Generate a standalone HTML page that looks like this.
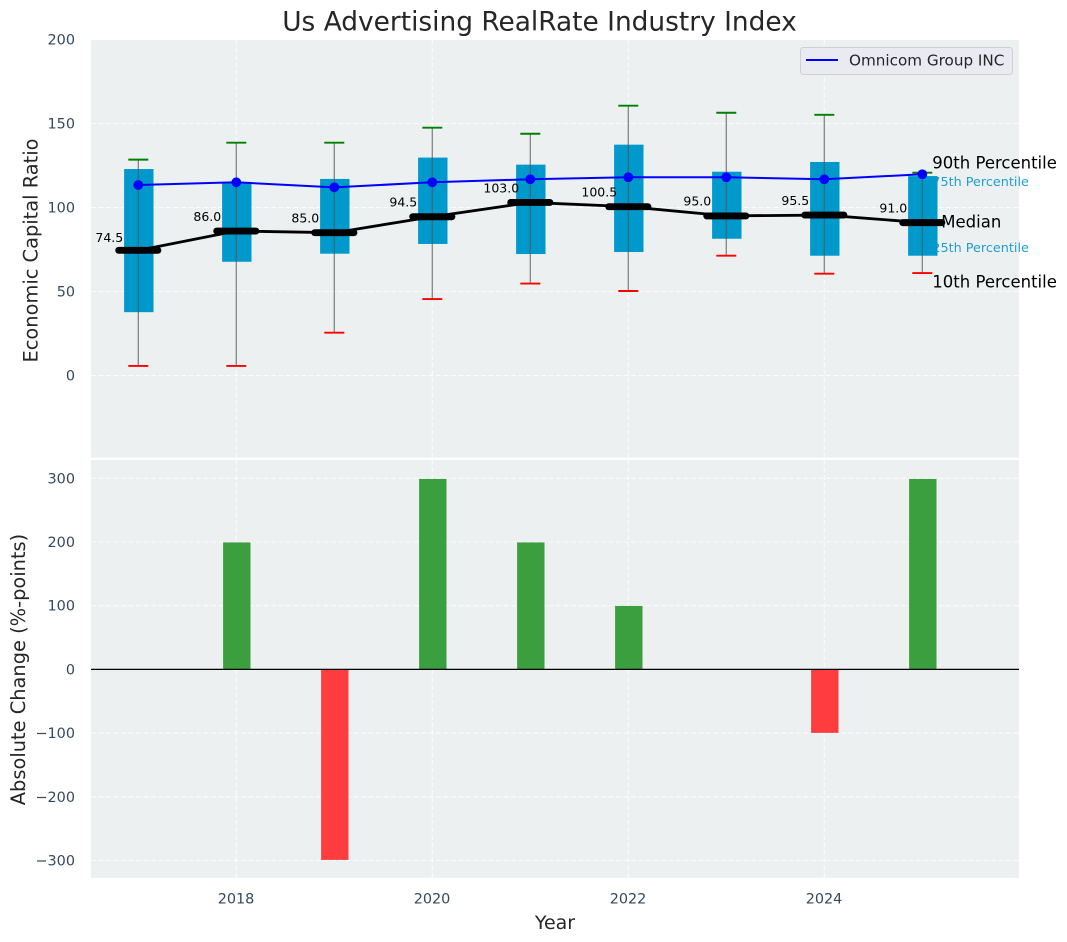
<!DOCTYPE html>
<html lang="en">
<head>
<meta charset="utf-8">
<title>Us Advertising RealRate Industry Index</title>
<style>
html,body{margin:0;padding:0;background:#fff;width:1067px;height:942px;overflow:hidden}
svg{display:block;font-family:"DejaVu Sans","Liberation Sans",sans-serif}
</style>
</head>
<body>
<svg id="chart" xmlns="http://www.w3.org/2000/svg" width="1067" height="942" viewBox="0 0 1067 942">
  <rect x="91" y="40" width="928" height="417.7" fill="#ecf0f1"/>
  <rect x="91" y="460" width="928" height="417.8" fill="#ecf0f1"/>
  <g id="grid"></g>
  <g id="notes"></g>
  <g id="marks"></g>
  <g id="bars"></g>
  <g id="ticks" font-size="14.4" fill="#34495e"></g>
  <text x="539.5" y="22" font-size="26.4" fill="#262626" text-anchor="middle" dominant-baseline="central">Us Advertising RealRate Industry Index</text>
  <text transform="translate(31 250.5) rotate(-90)" font-size="19.4" fill="#262626" text-anchor="middle" dominant-baseline="central">Economic Capital Ratio</text>
  <text transform="translate(18.5 669.5) rotate(-90)" font-size="19.4" fill="#262626" text-anchor="middle" dominant-baseline="central">Absolute Change (%-points)</text>
  <text x="555" y="923" font-size="19" fill="#262626" text-anchor="middle" dominant-baseline="central">Year</text>
  <g>
    <rect x="800.5" y="47.5" width="212" height="27" rx="3" fill="#eaeaf2" stroke="#cfcfd4" stroke-width="1"/>
    <line x1="806" x2="838" y1="60" y2="60" stroke="#0000ff" stroke-width="2"/>
    <text x="849" y="60.5" font-size="15.2" fill="#262626" dominant-baseline="central">Omnicom Group INC</text>
  </g>
</svg>
<script>
const years = [2017, 2018, 2019, 2020, 2021, 2022, 2023, 2024, 2025];
const p10 = [5.7, 5.7, 25.5, 45.5, 54.7, 50.3, 71.3, 60.6, 61];
const p25 = [37.7, 67.7, 72.5, 78.3, 72.3, 73.5, 81.4, 71.3, 71.3];
const medians = [74.5, 86, 85, 94.5, 103, 100.5, 95, 95.5, 91];
const p75 = [122.9, 114.7, 117, 129.7, 125.5, 137.4, 121.3, 127.1, 118.7];
const p90 = [128.5, 138.6, 138.6, 147.5, 143.9, 160.6, 156.4, 155.2, 120.7];
const company = [113.4, 115, 112, 115, 116.8, 118, 118, 116.8, 119.8];
const changes = [0, 200, -300, 300, 200, 100, 0, -100, 300];
const xTicks = [2018, 2020, 2022, 2024];
const topTicks = [0, 50, 100, 150, 200];
const bottomTicks = [-300, -200, -100, 0, 100, 200, 300];

const NS = 'http://www.w3.org/2000/svg';
const xScale = function (v) { return 138.3 + (v - 2017) * 98; };
const yTop = function (v) { return 375.5 - v * 1.68; };
const yBottom = function (v) { return 669.4 - v * 0.637; };
const yBar = function (v) { return 669.4 - v * 0.635; };

function mk(tag, parent, attrs) {
  const el = document.createElementNS(NS, tag);
  for (const k in attrs) el.setAttribute(k, attrs[k]);
  parent.appendChild(el);
  return el;
}
const grid = document.getElementById('grid');
const notes = document.getElementById('notes');
const marks = document.getElementById('marks');
const bars = document.getElementById('bars');
const ticks = document.getElementById('ticks');
const gridStyle = {stroke: '#ffffff', 'stroke-width': 1.1, 'stroke-dasharray': '5 2.5', opacity: 0.85};

xTicks.forEach(function (t) {
  const a = mk('line', grid, Object.assign({x1: xScale(t), x2: xScale(t), y1: 40, y2: 457.7}, gridStyle));
  
  
  const b = mk('line', grid, Object.assign({x1: xScale(t), x2: xScale(t), y1: 460, y2: 877.8}, gridStyle));
  
  
  const l = mk('text', ticks, {x: xScale(t) - 0.3, y: 899.5, 'text-anchor': 'middle', 'dominant-baseline': 'central'});
  l.textContent = String(t);
  
  
});
topTicks.forEach(function (t) {
  const g = mk('line', grid, Object.assign({x1: 91, x2: 1019, y1: yTop(t), y2: yTop(t)}, gridStyle));
  
  
  const l = mk('text', ticks, {x: 75, y: yTop(t) + 1, 'text-anchor': 'end', 'dominant-baseline': 'central'});
  l.textContent = String(t);
  
  
});
bottomTicks.forEach(function (t) {
  const g = mk('line', grid, Object.assign({x1: 91, x2: 1019, y1: yBottom(t), y2: yBottom(t)}, gridStyle));
  
  
  const l = mk('text', ticks, {x: 75, y: yBottom(t) + 1, 'text-anchor': 'end', 'dominant-baseline': 'central'});
  l.textContent = String(t).replace('-', '\u2212');
  
  
});

/* Percentile annotations beside the last box; the box is painted over them */
const last = years.length - 1;
const noteLabels = ['90th Percentile', '75th Percentile', 'Median', '25th Percentile', '10th Percentile'];
const noteValues = [p90[last], p75[last], medians[last], p25[last], p10[last]];
noteLabels.forEach(function (label, i) {
  const small = i === 1 || i === 3;
  const dx = [10, 10, 19, 10, 10][i];
  const dy = [-9.5, 6.6, -0.5, -7, 9][i];
  const n = mk('text', notes, {
    x: xScale(years[last]) + dx,
    y: yTop(noteValues[i]) + dy,
    'font-size': small ? 12.8 : 16.5,
    fill: small ? '#1f9fcf' : '#000000',
    'dominant-baseline': 'central'
  });
  n.textContent = label;
  
  
});

/* Boxes */
years.forEach(function (yr, i) {
  const x = xScale(yr);
  const box = mk('rect', marks, {x: x - 14.7 + 0.5, y: yTop(p75[i]), width: 29.4, height: yTop(p25[i]) - yTop(p75[i]), fill: '#0099cc'});
  
  
  const w = mk('line', marks, {x1: x, x2: x, y1: yTop(p90[i]), y2: yTop(p10[i]), stroke: '#555555', 'stroke-width': 1.3, opacity: 0.7});
  
  
  const hi = mk('line', marks, {x1: x - 10, x2: x + 10, y1: yTop(p90[i]), y2: yTop(p90[i]), stroke: '#008000', 'stroke-width': 1.9});
  
  
  const lo = mk('line', marks, {x1: x - 10, x2: x + 10, y1: yTop(p10[i]), y2: yTop(p10[i]), stroke: '#ff0000', 'stroke-width': 1.9});
  
  
});

/* Median trend */
const medianPath = mk('polyline', marks, {
  points: years.map(function (yr, i) { return xScale(yr) + ',' + yTop(medians[i]); }).join(' '),
  fill: 'none', stroke: '#000000', 'stroke-width': 2.8
});


years.forEach(function (yr, i) {
  const x = xScale(yr);
  const m = mk('line', marks, {x1: x - 19.6, x2: x + 19.6, y1: yTop(medians[i]), y2: yTop(medians[i]), stroke: '#000000', 'stroke-width': 6.9, 'stroke-linecap': 'round'});
  
  
  const t = mk('text', marks, {x: x - 29, y: yTop(medians[i]) - (i === 0 ? 12.7 : 14.7), 'font-size': 12.5, fill: '#000000', 'text-anchor': 'middle', 'dominant-baseline': 'central'});
  t.textContent = medians[i].toFixed(1);
  
  
});

/* Company line */
const companyPath = mk('polyline', marks, {
  points: years.map(function (yr, i) { return xScale(yr) + ',' + yTop(company[i]); }).join(' '),
  fill: 'none', stroke: '#0000ff', 'stroke-width': 2
});


years.forEach(function (yr, i) {
  const c = mk('circle', marks, {cx: xScale(yr), cy: yTop(company[i]), r: 4.9, fill: '#0000ff'});
  
  
});

/* Change bars */
years.forEach(function (yr, i) {
  if (changes[i] === 0) return;
  const y0 = yBar(0);
  const y1 = yBar(changes[i]);
  const b = mk('rect', bars, {
    x: xScale(yr) - 13.7 + 0.5,
    y: Math.min(y0, y1),
    width: 27.4,
    height: Math.abs(y1 - y0),
    fill: changes[i] > 0 ? '#3b9e3f' : '#ff3d3f'
  });
  
  
});
const zero = mk('line', bars, {x1: 91, x2: 1019, y1: yBottom(0), y2: yBottom(0), stroke: '#000000', 'stroke-width': 1.2});


</script>
</body>
</html>
